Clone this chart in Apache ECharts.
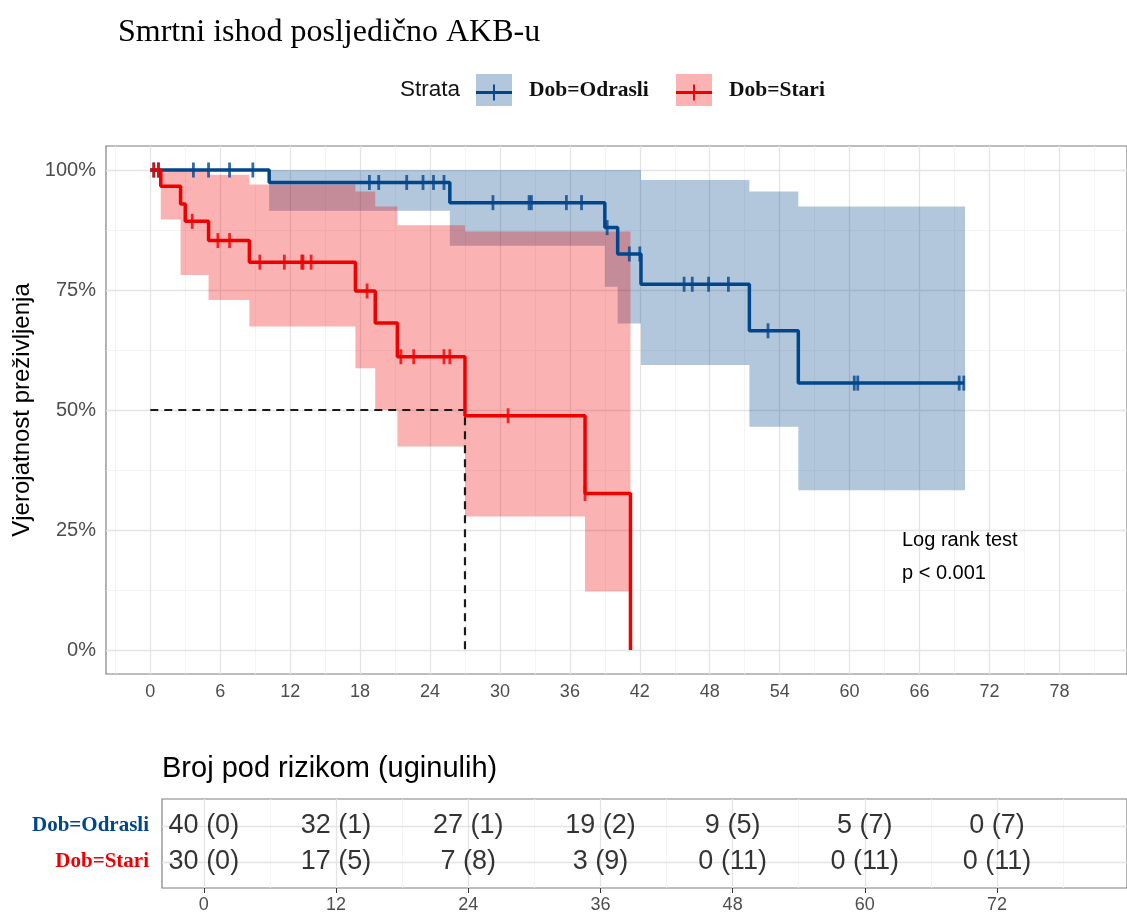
<!DOCTYPE html>
<html>
<head>
<meta charset="utf-8">
<title>Smrtni ishod posljedično AKB-u</title>
<script src="https://cdn.jsdelivr.net/npm/echarts@6/dist/echarts.min.js"></script>
<style>
  html, body { margin: 0; padding: 0; background: #fff; }
  #chart { width: 1127px; height: 918px; }
</style>
</head>
<body>
<div id="chart"></div>
<script>
// Kaplan-Meier krivulje (mjeseci, % preživljenja)
const odrasliTimes = [0, 10.2, 25.7, 39.0, 40.1, 42.1, 51.4, 55.6, 69.8]
const odrasliSurv = [100, 97.4, 93.2, 88.0, 82.5, 76.2, 66.5, 55.6, 55.6]
const odrasliCensored = [0.3, 0.7, 3.7, 5.0, 6.8, 8.8, 18.8, 19.6, 22.0, 23.4, 24.3, 25.2,
  29.4, 32.5, 32.7, 35.7, 37.0, 39.2, 41.1, 42.0, 45.8, 46.5, 47.9, 49.6, 53.0,
  60.4, 60.7, 69.4, 69.8]

const stariTimes = [0, 0.9, 2.6, 3.0, 5.0, 8.5, 17.6, 19.3, 21.2, 27.0, 37.3, 41.2]
const stariSurv = [100, 96.6, 92.9, 89.3, 85.3, 80.8, 74.8, 68.1, 61.1, 48.8, 32.6, 0]
const stariCensored = [0.3, 0.7, 3.6, 5.8, 6.8, 9.4, 11.5, 13.0, 13.1, 13.8, 18.6,
  21.5, 22.6, 25.2, 25.7, 30.7, 37.3]
const stariMedian = 27.0

// intervali pouzdanosti
const odrasliCiTimes = [10.2, 25.7, 39.0, 40.1, 42.1, 51.4, 55.6, 69.9]
const odrasliLower = [91.5, 84.2, 75.7, 68.0, 59.4, 46.5, 33.3, 33.3]
const odrasliUpper = [100, 100, 100, 100, 97.9, 95.5, 92.4, 92.4]
const stariCiTimes = [0.9, 2.6, 5.0, 8.5, 17.6, 19.3, 21.2, 27.0, 37.3, 41.2]
const stariLower = [89.7, 78.1, 72.9, 67.4, 58.7, 50.0, 42.4, 27.8, 12.2, 12.2]
const stariUpper = [100, 100, 99.0, 97.0, 95.5, 92.4, 88.5, 87.2, 87.2, 87.2]

// tablica rizika
const riskTimes = [0, 12, 24, 36, 48, 60, 72]
const odrasliAtRisk = [40, 32, 27, 19, 9, 5, 0]
const odrasliEvents = [0, 1, 1, 2, 5, 7, 7]
const stariAtRisk = [30, 17, 7, 3, 0, 0, 0]
const stariEvents = [0, 5, 8, 9, 11, 11, 11]
const groups = ['Dob=Odrasli', 'Dob=Stari']

const xTicks = [0, 6, 12, 18, 24, 30, 36, 42, 48, 54, 60, 66, 72, 78]
const yTicks = [0, 25, 50, 75, 100]

const BLUE = '#00468B'
const RED = '#ED0000'
const BLUE_BAND = 'rgba(0,70,139,0.3)'
const RED_BAND = 'rgba(237,0,0,0.3)'
const SANS = 'Liberation Sans'
const SERIF = 'Liberation Serif'
const X_MIN = -3.8
const X_MAX = 83.8

function survAt(times, surv, t) {
  let v = surv[0]
  for (let i = 0; i < times.length; i++) {
    if (times[i] <= t) v = surv[i]
  }
  return v
}

function mids(ticks, step) {
  const out = [ticks[0] - step / 2]
  ticks.forEach(t => out.push(t + step / 2))
  return out
}

function gridLines(xs, ys, color, width) {
  return xs.map(v => ({ xAxis: v, lineStyle: { color, width, type: 'solid' }}))
    .concat(ys.map(v => ({ yAxis: v, lineStyle: { color, width, type: 'solid' }})))
}

// stepenasti pojas pouzdanosti kao jedan poligon
function bandSeries(name, times, lower, upper, fill) {
  return {
    name: name,
    type: 'custom',
    coordinateSystem: 'cartesian2d',
    z: 2,
    encode: { x: 0, y: [1, 2] },
    data: times.map((t, i) => [t, lower[i], upper[i]]),
    renderItem: (params, api) => {
      if (params.dataIndex !== 0) return
      const top = []
      const bottom = []
      for (let i = 0; i < times.length - 1; i++) {
        top.push(api.coord([times[i], upper[i]]), api.coord([times[i + 1], upper[i]]))
        bottom.push(api.coord([times[i], lower[i]]), api.coord([times[i + 1], lower[i]]))
      }
      return {
        type: 'polygon',
        shape: { points: top.concat(bottom.reverse()) },
        style: { fill: fill }
      }
    }
  }
}

function curveSeries(name, times, surv, color) {
  return {
    name: name,
    type: 'line',
    step: 'end',
    symbol: 'none',
    lineStyle: { color: color, width: 3.5 },
    itemStyle: { color: color },
    data: times.map((t, i) => [t, surv[i]]),
    z: 4
  }
}

function censorSeries(name, censored, times, surv, color) {
  return {
    name: name,
    type: 'scatter',
    symbol: 'rect',
    symbolSize: [2.8, 15],
    itemStyle: { color: color },
    data: censored.map(t => [t, survAt(times, surv, t)]),
    z: 5
  }
}

const plusIcon = 'path://M0,7L38,7L38,10L0,10Z M18,0L20,0L20,17L18,17Z'
const legendText = { fontFamily: SERIF, fontWeight: 'bold', fontSize: 21.5, color: '#111', padding: [0, 0, 0, 12] }

function legendPair(name, left, color, band) {
  return [{
    left: left, top: 74, padding: 0, itemWidth: 36, itemHeight: 32,
    selectedMode: false,
    data: [{ name: name, icon: 'rect', itemStyle: { color: band } }],
    textStyle: legendText
  }, {
    left: left, top: 81.5, padding: 0, itemWidth: 36, itemHeight: 17,
    selectedMode: false, z: 5,
    data: [{ name: name, icon: plusIcon, itemStyle: { color: color } }],
    textStyle: Object.assign({}, legendText, { color: 'transparent' })
  }]
}

const chart = echarts.init(document.getElementById('chart'), null, { renderer: 'canvas' })

chart.setOption({
  animation: false,
  backgroundColor: '#fff',
  title: [{
    text: 'Smrtni ishod posljedično AKB-u',
    left: 118, top: 17, padding: 0,
    textStyle: { fontFamily: SERIF, fontSize: 32, fontWeight: 'normal', color: '#000' }
  }, {
    text: 'Strata',
    left: 400, top: 78, padding: 0,
    textStyle: { fontFamily: SANS, fontSize: 22.5, fontWeight: 'normal', color: '#111' }
  }, {
    text: 'Log rank test\np < 0.001',
    left: 902, top: 524, padding: 0,
    textStyle: { fontFamily: SANS, fontSize: 20, fontWeight: 'normal', color: '#000', lineHeight: 33 }
  }, {
    text: 'Broj pod rizikom (uginulih)',
    left: 162, top: 754, padding: 0,
    textStyle: { fontFamily: SANS, fontSize: 29, fontWeight: 'normal', color: '#000' }
  }],
  legend: legendPair(groups[0], 476, BLUE, BLUE_BAND).concat(legendPair(groups[1], 676, RED, RED_BAND)),
  grid: [{
    left: 106, top: 146, width: 1023, height: 528,
    show: true, borderColor: '#7f7f7f', borderWidth: 1.2, backgroundColor: 'transparent'
  }, {
    left: 162, top: 799, width: 972, height: 89,
    show: true, borderColor: '#7f7f7f', borderWidth: 1.2, backgroundColor: 'transparent'
  }],
  xAxis: [{
    type: 'value', gridIndex: 0, min: X_MIN, max: X_MAX,
    splitLine: { show: false },
    axisLine: { show: false },
    axisTick: { show: true, customValues: xTicks, length: 5, lineStyle: { color: '#333' } },
    axisLabel: { customValues: xTicks, margin: 9, fontFamily: SANS, fontSize: 18, color: '#4d4d4d' }
  }, {
    type: 'value', gridIndex: 1, min: X_MIN, max: X_MAX,
    splitLine: { show: false },
    axisLine: { show: false },
    axisTick: { show: true, customValues: riskTimes, length: 5, lineStyle: { color: '#333' } },
    axisLabel: { customValues: riskTimes, margin: 8, fontFamily: SANS, fontSize: 18, color: '#4d4d4d' }
  }],
  yAxis: [{
    type: 'value', gridIndex: 0, min: -5, max: 105,
    splitLine: { show: false },
    axisLine: { show: false },
    axisTick: { show: true, customValues: yTicks, length: 5, lineStyle: { color: '#333' } },
    axisLabel: { customValues: yTicks, formatter: '{value}%', margin: 10, fontFamily: SANS, fontSize: 20, color: '#4d4d4d' },
    name: 'Vjerojatnost preživljenja',
    nameLocation: 'middle',
    nameGap: 68,
    nameTextStyle: { fontFamily: SANS, fontSize: 24, color: '#000' }
  }, {
    type: 'value', gridIndex: 1, min: 0.26, max: 2.72, inverse: true,
    splitLine: { show: false },
    axisLine: { show: false },
    axisTick: { show: true, customValues: [1, 2], length: 6, lineStyle: { color: '#333' } },
    axisLabel: {
      customValues: [1, 2],
      margin: 13,
      formatter: v => (v === 1 ? '{o|' + groups[0] + '}' : '{s|' + groups[1] + '}'),
      rich: {
        o: { fontFamily: SERIF, fontWeight: 'bold', fontSize: 21, color: BLUE },
        s: { fontFamily: SERIF, fontWeight: 'bold', fontSize: 21, color: RED }
      }
    }
  }],
  series: [
    {
      type: 'line', xAxisIndex: 0, yAxisIndex: 0, data: [], z: 1,
      markLine: {
        z: 1, silent: true, symbol: ['none', 'none'], label: { show: false }, animation: false,
        data: gridLines(mids(xTicks, 6), mids(yTicks, 25), '#f1f1f1', 0.8)
          .concat(gridLines(xTicks, yTicks, '#e4e4e4', 1.3))
      }
    },
    {
      type: 'line', xAxisIndex: 1, yAxisIndex: 1, data: [], z: 1,
      markLine: {
        z: 1, silent: true, symbol: ['none', 'none'], label: { show: false }, animation: false,
        data: gridLines(mids(riskTimes, 12), [], '#f1f1f1', 0.8)
          .concat(gridLines(riskTimes, [1, 2], '#e4e4e4', 1.3))
      }
    },
    bandSeries(groups[0], odrasliCiTimes, odrasliLower, odrasliUpper, BLUE_BAND),
    bandSeries(groups[1], stariCiTimes, stariLower, stariUpper, RED_BAND),
    {
      type: 'line', symbol: 'none', z: 3,
      lineStyle: { color: '#1a1a1a', width: 2.2, type: [8, 6] },
      data: [[0, 50], [stariMedian, 50], [stariMedian, 0]]
    },
    curveSeries(groups[0], odrasliTimes, odrasliSurv, BLUE),
    curveSeries(groups[1], stariTimes, stariSurv, RED),
    censorSeries(groups[0], odrasliCensored, odrasliTimes, odrasliSurv, BLUE),
    censorSeries(groups[1], stariCensored, stariTimes, stariSurv, RED),
    {
      type: 'scatter', xAxisIndex: 1, yAxisIndex: 1,
      symbolSize: 2, itemStyle: { color: 'transparent' },
      label: {
        show: true, position: 'inside',
        formatter: p => p.value[2] + ' (' + p.value[3] + ')',
        fontFamily: SANS, fontSize: 27, color: '#000'
      },
      labelLayout: { hideOverlap: false },
      data: riskTimes.map((t, i) => [t, 1, odrasliAtRisk[i], odrasliEvents[i]])
        .concat(riskTimes.map((t, i) => [t, 2, stariAtRisk[i], stariEvents[i]])),
      z: 5
    }
  ]
})
</script>
</body>
</html>
